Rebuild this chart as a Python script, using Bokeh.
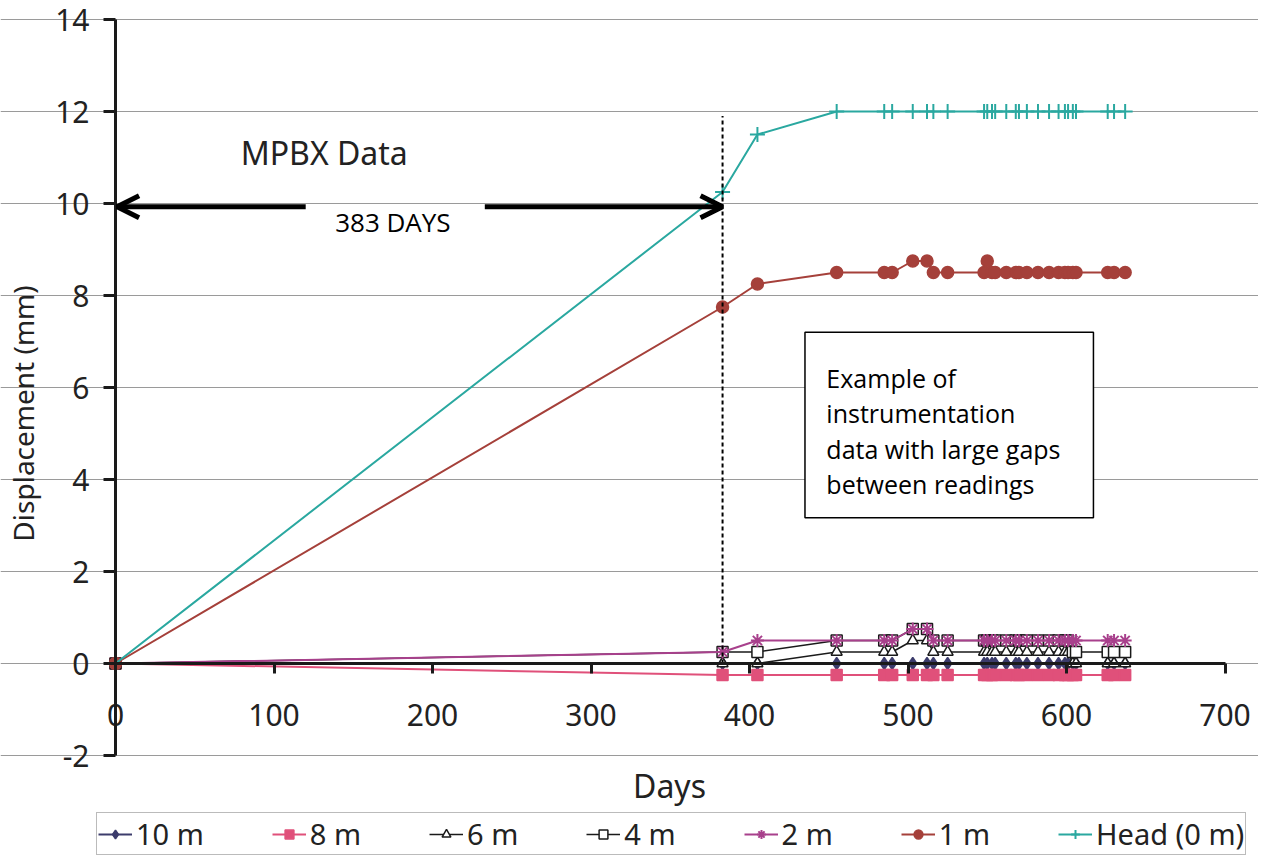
import math
from bokeh.plotting import figure
from bokeh.models import (Range1d, Arrow, OpenHead, Label, BoxAnnotation,
                          Legend, LegendItem, FixedTicker)
from bokeh.embed import file_html
from bokeh.resources import INLINE

# ---------------- data ----------------
days = [0, 383, 405, 455, 485, 490, 503, 512, 516, 525, 548, 550, 553, 555,
        562, 568, 570, 575, 582, 589, 595, 599, 601, 604, 606, 626, 630, 637]

d10m = [0.0] * 28
d8m = [0.0] + [-0.25] * 27
d6m = [0.0, 0.0, 0.0, 0.25, 0.25, 0.25, 0.5, 0.5, 0.25, 0.25,
       0.25, 0.25, 0.25, 0.25, 0.25, 0.25, 0.25, 0.25, 0.25, 0.25, 0.25, 0.25, 0.25,
       0.0, 0.0, 0.0, 0.0, 0.0]
d4m = [0.0, 0.25, 0.25, 0.5, 0.5, 0.5, 0.75, 0.75, 0.5, 0.5,
       0.5, 0.5, 0.5, 0.5, 0.5, 0.5, 0.5, 0.5, 0.5, 0.5, 0.5, 0.5, 0.5,
       0.25, 0.25, 0.25, 0.25, 0.25]
d2m = [0.0, 0.25, 0.5, 0.5, 0.5, 0.5, 0.75, 0.75, 0.5, 0.5,
       0.5, 0.5, 0.5, 0.5, 0.5, 0.5, 0.5, 0.5, 0.5, 0.5, 0.5, 0.5, 0.5,
       0.5, 0.5, 0.5, 0.5, 0.5]
d1m = [0.0, 7.75, 8.25, 8.5, 8.5, 8.5, 8.75, 8.75, 8.5, 8.5,
       8.5, 8.75, 8.5, 8.5, 8.5, 8.5, 8.5, 8.5, 8.5, 8.5, 8.5, 8.5, 8.5,
       8.5, 8.5, 8.5, 8.5, 8.5]
dhead = [0.0, 10.25, 11.5] + [12.0] * 25

x_ticks = [0, 100, 200, 300, 400, 500, 600, 700]
y_ticks = [-2, 0, 2, 4, 6, 8, 10, 12, 14]
x_bounds = (0, 700)
y_bounds = (-2, 14)

gap_days = 383
box_lines = ["Example of", "instrumentation", "data with large gaps", "between readings"]

AXFONT = "Noto Sans"
TXT = "#222222"

# ---------------- layout (page pixels) ----------------
W, H = 1258, 857
PX0, KX = 115.0, 1.585     # page x of day 0, pixels per day
PY0, KY = 663.0, 46.0      # page y of 0 mm, pixels per mm
OX, OY = 0.0, 0.0          # page offset of the canvas (as rendered)
x_range = Range1d((OX - PX0) / KX, (OX + W - PX0) / KX)
y_range = Range1d((PY0 - (OY + H)) / KY, (PY0 - OY) / KY)

p = figure(width=W, height=H, x_range=x_range, y_range=y_range,
           output_backend="svg", toolbar_location=None,
           min_border_left=0, min_border_right=0, min_border_top=0,
           min_border_bottom=0)
p.outline_line_color = None
p.background_fill_color = "white"

# axes drawn inside the frame
p.xaxis.fixed_location = 0
p.yaxis.fixed_location = 0
p.xaxis.bounds = x_bounds
p.yaxis.bounds = y_bounds
p.xaxis.ticker = FixedTicker(ticks=x_ticks)
p.yaxis.ticker = FixedTicker(ticks=y_ticks)
for ax in (p.xaxis[0], p.yaxis[0]):
    ax.axis_line_width = 3
    ax.axis_line_color = "#1a1a1a"
    ax.major_tick_line_width = 3
    ax.major_tick_line_color = "#1a1a1a"
    ax.major_tick_in = 0
    ax.minor_tick_line_color = None
    ax.major_label_text_font = AXFONT
    ax.major_label_text_font_size = "30px"
    ax.major_label_text_color = TXT
p.xaxis.major_tick_out = 10
p.xaxis.major_label_standoff = 30
p.yaxis.major_tick_out = 12
p.yaxis.major_label_standoff = 14
p.yaxis.major_label_overrides = {-2: "-2"}

p.xgrid.visible = False
p.ygrid.grid_line_color = "#9a9a9a"
p.ygrid.grid_line_width = 1
p.ygrid.bounds = x_bounds

p.add_layout(Label(x=(22 - PX0) / KX, y=(PY0 - 413) / KY, text="Displacement (mm)",
                   angle=math.pi / 2, text_font=AXFONT, text_font_size="28px",
                   text_align="center", text_baseline="middle", text_color=TXT))
p.add_layout(Label(x=(669 - PX0) / KX, y=(PY0 - 785) / KY, text="Days", text_font=AXFONT,
                   text_font_size="32px", text_align="center",
                   text_baseline="middle", text_color=TXT))

# series
series = [
    ("10 m", d10m, "#3c3c6c", "diamond", "#3c3c6c", "#3c3c6c", 12, 2),
    ("8 m", d8m, "#e0507a", "square", "#e0507a", "#e0507a", 11, 2),
    ("6 m", d6m, "#1a1a1a", "triangle", "white", "#1a1a1a", 11, 1.5),
    ("4 m", d4m, "#1a1a1a", "square", "white", "#1a1a1a", 11, 1.5),
    ("2 m", d2m, "#a8408c", "asterisk", "#a8408c", "#a8408c", 13, 2),
    ("1 m", d1m, "#a5403a", "circle", "#a5403a", "#a5403a", 12, 2),
    ("Head (0 m)", dhead, "#2aa8a0", "cross", "#2aa8a0", "#2aa8a0", 15, 2),
]
items = []
for name, vals, lc, mk, fc, mc, sz, lw in series:
    r1 = p.line(days, vals, line_color=lc, line_width=lw)
    r2 = p.scatter(days, vals, marker=mk, size=sz, fill_color=fc,
                   line_color=mc, line_width=1.5 if mk not in ("asterisk", "cross") else 2)
    items.append(LegendItem(label=name, renderers=[r1, r2]))

# annotations
p.segment(x0=[gap_days], y0=[0], x1=[gap_days], y1=[11.9],
          line_color="black", line_width=2, line_dash="4 3")
p.add_layout(Arrow(end=OpenHead(size=22, line_width=5, line_color="black"),
                   x_start=120, y_start=9.93, x_end=1, y_end=9.93,
                   line_width=5, line_color="black"))
p.add_layout(Arrow(end=OpenHead(size=22, line_width=5, line_color="black"),
                   x_start=233, y_start=9.93, x_end=gap_days, y_end=9.93,
                   line_width=5, line_color="black"))
p.add_layout(Label(x=175, y=9.6, text=f"{gap_days} DAYS", text_font="Open Sans",
                   text_font_size="26px", text_align="center",
                   text_baseline="middle", text_color="black"))
p.add_layout(Label(x=79, y=11.1, text="MPBX Data", text_font=AXFONT,
                   text_font_size="32px", text_baseline="middle", text_color=TXT))

p.add_layout(BoxAnnotation(left=435, right=617, top=7.2, bottom=3.17,
                           fill_color="white", fill_alpha=1.0,
                           line_color="black", line_alpha=1.0, line_width=1.5))
for i, t in enumerate(box_lines):
    p.add_layout(Label(x=448.5, y=6.2 - i * 0.765, text=t, text_font="Open Sans",
                       text_font_size="25px", text_baseline="middle",
                       text_color="black"))

legend = Legend(items=items, orientation="horizontal",
                location=(96 - OX, (OY + H) - 855),
                label_text_font=AXFONT, label_text_font_size="29px",
                label_text_color=TXT, glyph_width=34, glyph_height=22,
                label_standoff=4, spacing=68, padding=1, margin=0,
                border_line_color="#777777", border_line_width=1.5)
p.add_layout(legend, "center")

open("out.html", "w").write(file_html(p, INLINE))
